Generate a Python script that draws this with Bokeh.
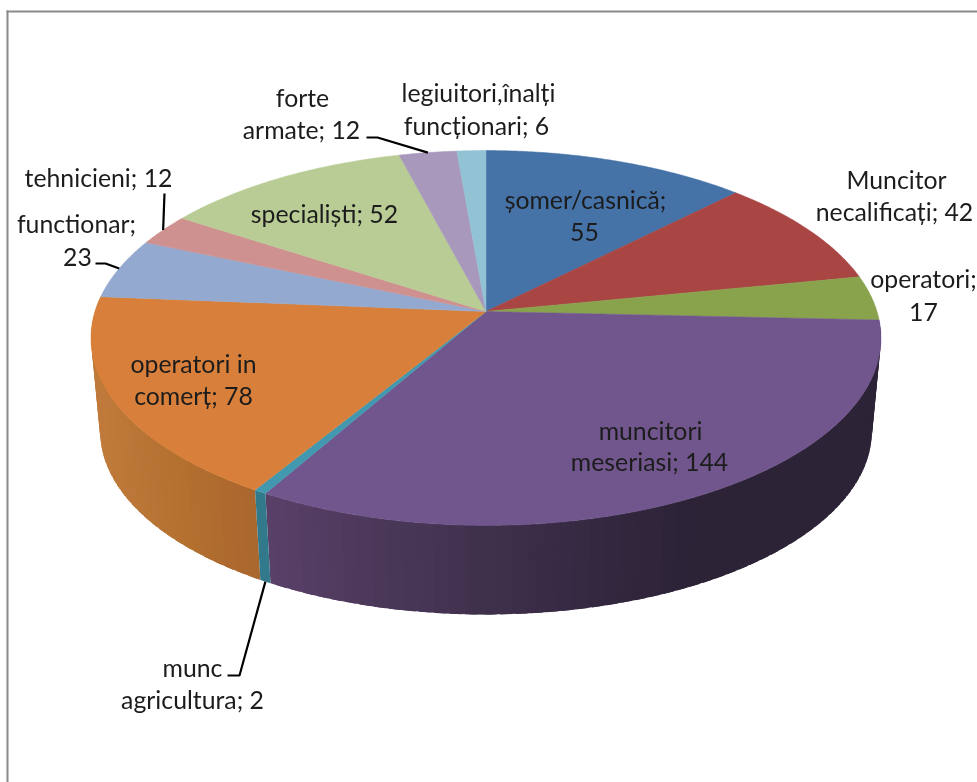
import numpy as np
from bokeh.plotting import figure
from bokeh.models import Range1d
from bokeh.core.properties import value
from bokeh.embed import file_html
from bokeh.resources import INLINE

# ---- chart data ----
categories = ["șomer/casnică", "Muncitor necalificați", "operatori", "muncitori meseriasi",
              "munc agricultura", "operatori in comerț", "functionar", "tehnicieni",
              "specialiști", "forte armate", "legiuitori,înalți funcționari"]
values = [55, 42, 17, 144, 2, 78, 23, 12, 52, 12, 6]
top_colors = ["#4572A7", "#A94543", "#89A34D", "#70568C", "#4198AF", "#D8803B",
              "#93A9CF", "#CF9190", "#B9CC95", "#A899BC", "#91C3D4"]
label_lines = [["șomer/casnică;", "55"], ["Muncitor", "necalificați; 42"], ["operatori;", "17"],
               ["muncitori", "meseriasi; 144"], ["munc", "agricultura; 2"], ["operatori in", "comerț; 78"],
               ["functionar;", "23"], ["tehnicieni; 12"], ["specialiști; 52"], ["forte", "armate; 12"],
               ["legiuitori,înalți", "funcționari; 6"]]
label_pos = [[(585, 199), (584, 231)], [(896, 179), (894, 211)], [(923, 278), (923, 311)],
             [(650, 430), (649, 461)], [(192, 667), (192, 699)], [(193, 363), (193, 395)],
             [(76, 223), (77, 256)], [(98, 177)], [(324, 213)], [(302, 97), (301, 129)],
             [(478, 92), (476, 125)]]
# ---- projection of the pie (perspective disc) ----
CX, CY, B, A, K = 485.5, 311.0, 391.0, 183.7, 0.1413
WALL_S, WALL_CY = 0.977, 405.0


def project(theta_deg, bottom=False):
    t = np.radians(theta_deg)
    x, y = np.sin(t), -np.cos(t)
    d = 1 - K * y
    px, py = B * x / d, A * y / d
    if bottom:
        return CX + WALL_S * px, WALL_CY + WALL_S * py
    return CX + px, CY + py


total = sum(values)
edges = np.concatenate([[0], np.cumsum(values)]) / total * 360.0
idx = {c: i for i, c in enumerate(categories)}


def lerp_color(stops, x):
    xs = [s[0] for s in stops]
    rgb = [np.interp(x, xs, [int(s[1][i:i + 2], 16) for s in stops]) for i in (1, 3, 5)]
    return "#%02x%02x%02x" % tuple(int(round(v)) for v in rgb)


wall_stops = {
    "muncitori meseriasi": [(262, "#5A4069"), (380, "#4B3859"), (500, "#3E2F4B"), (610, "#33273F"), (690, "#2D2337"), (900, "#2D2337")],
    "munc agricultura": [(250, "#33798C"), (275, "#33798C")],
    "operatori in comerț": [(90, "#C07B3C"), (180, "#B4702F"), (262, "#A8652E")],
}

p = figure(width=977, height=782, output_backend="svg", toolbar_location=None,
           x_range=Range1d(0, 977), y_range=Range1d(782, 0), min_border=0,
           background_fill_color="white", border_fill_color="white",
           styles={"position": "fixed", "left": "0", "top": "0"})
p.axis.visible = False
p.grid.visible = False
p.outline_line_color = None

# frame of the chart area
p.quad(left=[6], right=[8], top=[10], bottom=[782], fill_color="#8A8A8A", line_color=None)
p.quad(left=[6], right=[977], top=[10], bottom=[12], fill_color="#8A8A8A", line_color=None)

# walls: each band runs on under the next one, so that no seams show
wx, wy, wc = [], [], []
for name in ["muncitori meseriasi", "operatori in comerț"]:
    i = idx[name]
    th = np.arange(edges[i], edges[i + 1], 2.0).tolist() + [edges[i + 1]]
    segs = list(zip(th[:-1], th[1:]))
    segs.sort(key=lambda s: -abs(((s[0] + s[1]) / 2) - 180))
    for a, b in segs:
        # lengthen towards the front of the pie, staying inside the slice
        if (a + b) / 2 < 180:
            b2 = min(b + 1.5, edges[i + 1])
            a2 = a
        else:
            a2 = max(a - 1.5, edges[i])
            b2 = b
        ta, tb = project(a2), project(b2)
        ba, bb = project(b2, True), project(a2, True)
        wx.append([ta[0], tb[0], ba[0], bb[0]])
        wy.append([ta[1], tb[1], ba[1], bb[1]])
        mx = (project(a)[0] + project(b)[0]) / 2
        wc.append(lerp_color(wall_stops[name], mx))
p.patches(wx, wy, fill_color=wc, line_color=None)

# the thin wall slice goes over its two neighbours
i = idx["munc agricultura"]
ta, tb = project(edges[i]), project(edges[i + 1])
ba, bb = project(edges[i + 1], True), project(edges[i], True)
p.patches([[ta[0], tb[0], ba[0], bb[0]]], [[ta[1], tb[1], ba[1], bb[1]]],
          fill_color=lerp_color(wall_stops["munc agricultura"], ta[0]), line_color=None)

# top disc
xs, ys = [], []
for i in range(len(values)):
    th = np.linspace(edges[i], edges[i + 1], max(3, int((edges[i + 1] - edges[i]) * 2)))
    px, py = project(th)
    xs.append([CX] + px.tolist())
    ys.append([CY] + py.tolist())
p.patches(xs, ys, fill_color=top_colors, line_color=top_colors, line_width=0.5)

# leader lines: elbow points, ending on the slice's rim
def mid(name):
    i = idx[name]
    return (edges[i] + edges[i + 1]) / 2


leaders = [
    ([366, 377], [137, 137], project(mid("forte armate"))),
    ([164], [193], project(mid("tehnicieni"))),
    ([95, 105], [263, 263], project(mid("functionar"))),
    ([227, 239], [675, 675], project(mid("munc agricultura"), True)),
]
for lx, ly, end in leaders:
    p.line(lx + [end[0]], ly + [end[1]], line_color="#000000", line_width=2.2)

# labels
tx, ty, tt = [], [], []
for lines, pos in zip(label_lines, label_pos):
    for s, (x, y) in zip(lines, pos):
        tx.append(x)
        ty.append(y)
        tt.append(s)
p.text(tx, ty, text=tt, text_font=value("Lato"), text_font_size="24.8px", text_color="#1C1C1C",
       text_align="center", text_baseline="middle")

open("out.html", "w").write(file_html(p, INLINE))
